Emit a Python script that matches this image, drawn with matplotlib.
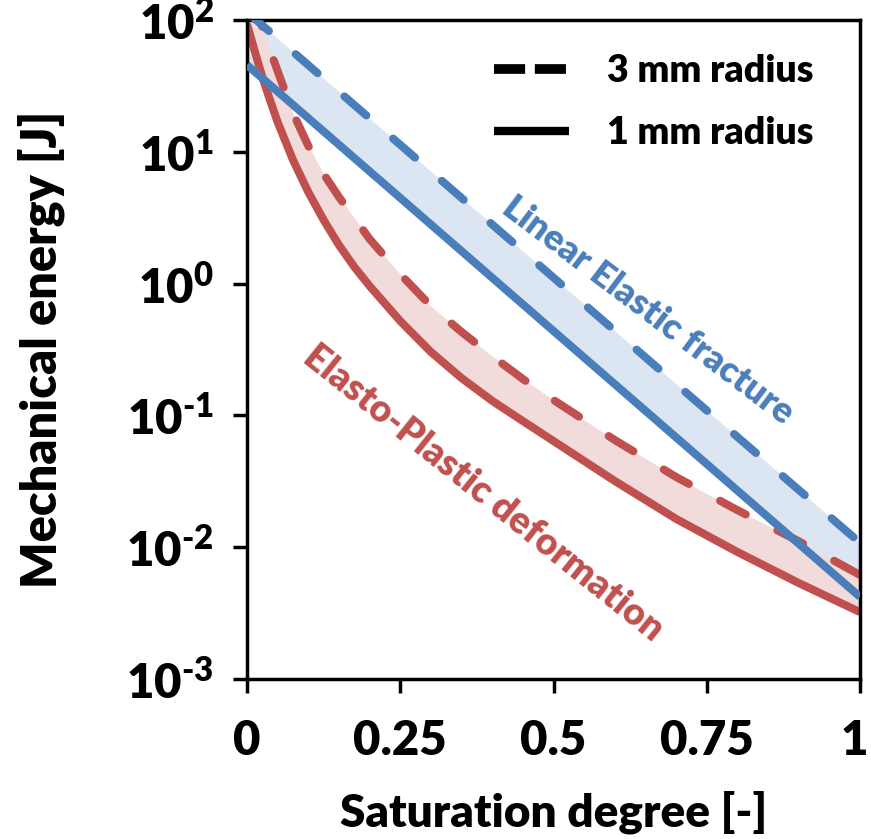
import matplotlib
matplotlib.use("Agg")
import matplotlib.pyplot as plt
import matplotlib.transforms as mtransforms
from matplotlib.lines import Line2D
from matplotlib.ticker import NullLocator

plt.rcParams['font.family'] = ['Lato', 'DejaVu Sans']
plt.rcParams['font.weight'] = 'heavy'
plt.rcParams['axes.labelweight'] = 'heavy'
plt.rcParams['mathtext.fontset'] = 'custom'
plt.rcParams['mathtext.rm'] = 'Lato:heavy'
plt.rcParams['mathtext.it'] = 'Lato:heavy'
plt.rcParams['mathtext.bf'] = 'Lato:heavy'

# values
# linear elastic fracture (straight lines on the log axis)
elastic_sat = [0, 0.25, 0.5, 0.75, 1.0]
elastic_3mm = [115, 11.3, 1.11, 0.109, 0.0108]
elastic_1mm = [45.6, 4.47, 0.437, 0.0428, 0.0042]

# elasto-plastic deformation
plastic_sat = [0, 0.0125, 0.025, 0.0375, 0.05, 0.075, 0.1, 0.125, 0.15, 0.175, 0.2,
               0.25, 0.3, 0.35, 0.4, 0.45, 0.5, 0.6, 0.7, 0.8, 0.9, 1.0]
plastic_3mm = [200, 135, 88.5, 59.2, 41.0, 19.7, 11.1, 6.79, 4.54, 3.15, 2.18,
               1.18, 0.676, 0.430, 0.282, 0.189, 0.131, 0.0650, 0.0341, 0.0191,
               0.0111, 0.00615]
plastic_1mm = [93.2, 58.2, 36.9, 24.7, 16.8, 8.67, 4.95, 3.04, 1.96, 1.34, 0.959,
               0.520, 0.303, 0.192, 0.129, 0.0906, 0.0639, 0.0318, 0.0164, 0.00920,
               0.00535, 0.00322]

x_ticks = [0, 0.25, 0.5, 0.75, 1]
x_tick_labels = ['0', '0.25', '0.5', '0.75', '1']
y_ticks = [1e-3, 1e-2, 1e-1, 1e0, 1e1, 1e2]
y_tick_labels = [r'$10^{\text{-}3}$', r'$10^{\text{-}2}$', r'$10^{\text{-}1}$',
                 r'$10^{0}$', r'$10^{1}$', r'$10^{2}$']

blue = '#4a7ebb'
red = '#c0504d'
blue_fill = '#dce6f2'
red_fill = '#f2dcdb'

fig = plt.figure(figsize=(8.71, 8.39), dpi=100)
ax = fig.add_axes([247 / 871, 1 - 679 / 839, 613 / 871, 659 / 839])

ax.fill_between(elastic_sat, elastic_1mm, elastic_3mm, color=blue_fill, lw=0, zorder=1)
ax.fill_between(plastic_sat, plastic_1mm, plastic_3mm, color=red_fill, lw=0, zorder=1.5)

dash = dict(dashes=(3.6, 4.4), dash_capstyle='round')
ax.plot(plastic_sat, plastic_3mm, color=red, lw=5.8, zorder=2, **dash)
ax.plot(plastic_sat, plastic_1mm, color=red, lw=5.8, zorder=2, solid_capstyle='butt')
ax.plot(elastic_sat, elastic_3mm, color=blue, lw=5.8, zorder=3, **dash)
ax.plot(elastic_sat, elastic_1mm, color=blue, lw=5.8, zorder=3, solid_capstyle='butt')

ax.set_yscale('log')
ax.set_xlim(0, 1)
ax.set_ylim(1e-3, 1e2)
ax.set_xticks(x_ticks)
ax.set_xticklabels(x_tick_labels)
ax.set_yticks(y_ticks)
ax.set_yticklabels(y_tick_labels)
ax.yaxis.set_minor_locator(NullLocator())
ax.tick_params(direction='out', length=10, width=2.5, labelsize=34)
ax.tick_params(axis='x', pad=19)
ax.tick_params(axis='y', pad=14)
for s in ax.spines.values():
    s.set_linewidth(2.5)
    s.set_color('black')

# keep the last x label inside the figure
last = ax.get_xticklabels()[-1]
last.set_transform(last.get_transform() +
                   mtransforms.ScaledTranslation(-6 / 100, 0, fig.dpi_scale_trans))

ax.set_xlabel('Saturation degree [-]', fontsize=33, va='center')
ax.set_ylabel('Mechanical energy [J]', fontsize=35, va='center')
ax.xaxis.set_label_coords(0.5, -0.202)
ax.yaxis.set_label_coords(-0.336, 0.5)

ax.text(0.654, 0.56, 'Linear Elastic fracture', transform=ax.transAxes,
        color=blue, fontsize=26, rotation=-37,
        rotation_mode='anchor', ha='center', va='center')
ax.text(0.385, 0.282, 'Elasto-Plastic deformation', transform=ax.transAxes,
        color=red, fontsize=27, rotation=-38.7,
        rotation_mode='anchor', ha='center', va='center')

handles = [Line2D([], [], color='black', lw=7, dashes=(3.2, 1.0), dash_capstyle='butt'),
           Line2D([], [], color='black', lw=6, solid_capstyle='butt')]
ax.legend(handles, ['3 mm radius', '1 mm radius'], loc='upper left',
          bbox_to_anchor=(0.348, 1.0), frameon=False, fontsize=27,
          handlelength=2.0, handletextpad=1.0, labelspacing=0.75)

fig.savefig('out.png', dpi=100)
